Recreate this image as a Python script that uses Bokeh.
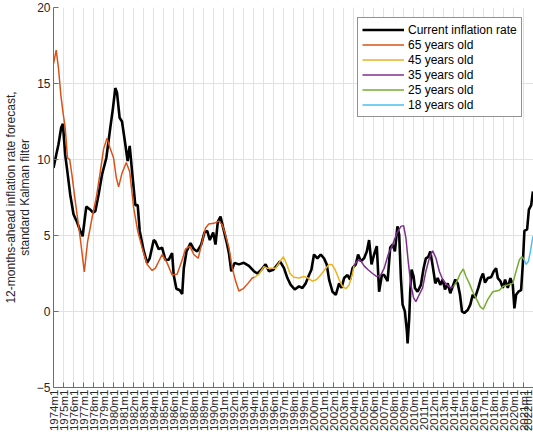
import math
from bokeh.plotting import figure
from bokeh.models import FixedTicker, Legend, LegendItem, AllLabels
from bokeh.embed import file_html
from bokeh.resources import INLINE

# values (decimal year, percent)
current_t = [1974.00, 1974.27, 1974.50, 1974.77, 1974.94, 1975.17, 1975.34, 1975.67, 1976.00, 1976.34,
             1976.68, 1976.91, 1977.28, 1977.68, 1977.95, 1978.18, 1978.51, 1978.85, 1979.28, 1979.68,
             1979.95, 1980.18, 1980.35, 1980.61, 1980.85, 1981.18, 1981.41, 1981.62, 1981.86, 1982.18,
             1982.42, 1982.62, 1983.02, 1983.36, 1983.62, 1984.02, 1984.19, 1984.52, 1984.86, 1985.19,
             1985.52, 1985.86, 1986.02, 1986.29, 1986.63, 1986.87, 1987.03, 1987.30, 1987.70, 1988.03,
             1988.37, 1988.77, 1989.10, 1989.37, 1989.63, 1989.97, 1990.20, 1990.43, 1990.70, 1990.97,
             1991.30, 1991.54, 1991.78, 1992.11, 1992.54, 1993.04, 1993.54, 1994.04, 1994.38, 1994.78,
             1995.21, 1995.54, 1995.98, 1996.65, 1997.05, 1997.39, 1997.72, 1998.12, 1998.55, 1998.89,
             1999.22, 1999.55, 1999.79, 2000.05, 2000.39, 2000.72, 2001.05, 2001.32, 2001.56, 2001.90,
             2002.23, 2002.56, 2002.80, 2003.06, 2003.40, 2003.66, 2003.90, 2004.23, 2004.46, 2004.73,
             2005.06, 2005.33, 2005.56, 2005.80, 2006.06, 2006.33, 2006.56, 2006.84, 2007.07, 2007.41,
             2007.67, 2007.91, 2008.14, 2008.39, 2008.57, 2008.74, 2008.91, 2009.14, 2009.34, 2009.41,
             2009.57, 2009.67, 2009.81, 2010.01, 2010.14, 2010.41, 2010.74, 2011.01, 2011.24, 2011.48,
             2011.68, 2011.92, 2012.18, 2012.42, 2012.68, 2012.92, 2013.15, 2013.42, 2013.68, 2013.92,
             2014.18, 2014.42, 2014.65, 2014.85, 2015.08, 2015.42, 2015.68, 2015.92, 2016.15, 2016.48,
             2016.75, 2016.95, 2017.15, 2017.43, 2017.76, 2018.03, 2018.26, 2018.43, 2018.69, 2018.93,
             2019.16, 2019.43, 2019.69, 2019.93, 2020.09, 2020.26, 2020.49, 2020.76, 2020.93, 2021.09,
             2021.36, 2021.54, 2021.77, 2021.94]
current_v = [9.45, 10.3, 11.0, 12.1, 12.35, 10.3, 9.45, 7.7, 6.4, 5.9,
             5.3, 4.95, 6.9, 6.7, 6.5, 6.6, 7.7, 9.0, 10.1, 12.1,
             13.4, 14.7, 14.4, 12.75, 12.5, 11.0, 9.9, 10.9, 9.2, 7.0,
             7.0, 5.3, 4.0, 3.2, 3.5, 4.7, 4.6, 4.1, 4.2, 3.4,
             3.4, 3.85, 2.4, 1.5, 1.4, 1.15, 2.85, 3.95, 4.5, 4.1,
             3.95, 4.4, 5.2, 5.3, 4.7, 5.2, 4.4, 5.9, 6.25, 5.5,
             4.6, 3.85, 2.65, 3.2, 3.1, 3.2, 3.0, 2.65, 2.5, 2.75,
             3.1, 2.65, 2.75, 3.3, 2.85, 2.2, 1.75, 1.45, 1.65, 1.55,
             1.85, 2.4, 2.75, 3.75, 3.5, 3.75, 3.5, 3.1, 2.1, 1.3,
             1.1, 1.85, 1.55, 2.2, 2.4, 2.1, 2.85, 3.1, 3.75, 3.3,
             3.5, 3.95, 4.7, 3.1, 3.75, 4.3, 1.3, 2.4, 2.4, 2.0,
             4.2, 4.4, 3.95, 5.6, 5.05, 2.2, 0.45, 0.0, -1.3, -2.1,
             -0.45, 1.3, 2.75, 2.3, 1.55, 1.3, 1.75, 2.85, 3.5, 3.6,
             3.95, 3.0, 1.85, 2.2, 1.75, 2.1, 1.45, 1.85, 1.2, 1.65,
             2.1, 1.85, 1.1, 0.0, -0.1, 0.1, 0.45, 1.1, 0.9, 1.55,
             2.2, 2.5, 1.9, 2.2, 2.25, 2.65, 2.85, 2.2, 2.0, 1.55,
             2.1, 1.55, 2.2, 1.75, 0.2, 1.1, 1.3, 1.4, 3.1, 5.3,
             5.4, 6.7, 7.0, 7.9]

age65_t = [1974.00, 1974.27, 1974.50, 1974.74, 1974.97, 1975.17, 1975.40, 1975.62, 1975.84, 1976.18,
           1976.68, 1977.08, 1977.41, 1977.85, 1978.28, 1978.68, 1979.01, 1979.35, 1979.68, 1980.01,
           1980.28, 1980.51, 1980.85, 1981.28, 1981.62, 1982.02, 1982.42, 1982.86, 1983.36, 1983.86,
           1984.19, 1984.86, 1985.36, 1985.86, 1986.36, 1986.77, 1987.20, 1987.63, 1988.03, 1988.47,
           1988.87, 1989.20, 1989.53, 1990.03, 1990.53, 1990.87, 1991.20, 1991.54, 1991.88, 1992.21,
           1992.54, 1992.98, 1993.44, 1993.88, 1994.11]
age65_v = [16.3, 17.2, 16.0, 14.2, 13.0, 12.1, 10.1, 10.0, 9.0, 7.25,
           4.8, 2.6, 4.6, 6.15, 7.5, 9.2, 10.7, 11.4, 10.7, 10.1,
           8.8, 8.2, 9.1, 9.8, 9.2, 6.8, 5.3, 4.2, 3.1, 2.7,
           2.85, 3.75, 3.2, 2.4, 2.45, 3.2, 4.1, 4.3, 3.75, 3.5,
           4.6, 5.5, 5.75, 5.8, 5.95, 5.7, 5.05, 4.2, 2.85, 2.0,
           1.35, 1.5, 1.85, 2.2, 2.25]

age45_t = [1994.11, 1994.54, 1995.04, 1995.38, 1995.71, 1996.21, 1996.65, 1996.99, 1997.32, 1997.65,
           1998.05, 1998.55, 1999.05, 1999.45, 1999.89, 2000.32, 2000.72, 2001.12, 2001.56, 2001.83,
           2002.16, 2002.56, 2002.90, 2003.23, 2003.56, 2003.90, 2004.06]
age45_v = [2.25, 2.45, 2.95, 2.85, 2.85, 2.85, 3.3, 3.6, 3.1, 2.5,
           2.25, 2.2, 2.3, 2.2, 2.0, 2.1, 2.4, 2.75, 3.1, 3.1,
           2.75, 2.1, 1.65, 1.5, 1.75, 2.5, 3.0]

age35_t = [2004.06, 2004.33, 2004.66, 2005.06, 2005.46, 2005.90, 2006.33, 2006.73, 2007.07, 2007.47,
           2007.91, 2008.34, 2008.74, 2009.01, 2009.24, 2009.47, 2009.74, 2010.01, 2010.24, 2010.57,
           2010.91, 2011.24, 2011.58, 2011.92, 2012.25, 2012.58, 2012.92, 2013.35, 2013.75, 2014.02]
age35_v = [3.0, 3.3, 3.4, 3.0, 2.75, 2.5, 2.3, 2.4, 2.85, 3.75,
           4.4, 5.15, 5.6, 5.65, 4.85, 3.3, 1.75, 0.9, 0.65, 1.1,
           1.55, 2.65, 3.5, 4.0, 3.5, 2.65, 2.1, 1.75, 1.55, 1.65]

age25_t = [2014.02, 2014.35, 2014.68, 2014.98, 2015.25, 2015.58, 2015.92, 2016.35, 2016.68, 2016.98,
           2017.43, 2017.93, 2018.59, 2018.93, 2019.43, 2019.93, 2020.26, 2020.59, 2020.83, 2021.03]
age25_v = [1.65, 2.0, 2.5, 2.8, 2.3, 1.85, 1.3, 0.75, 0.3, 0.15,
           0.8, 1.3, 1.4, 1.65, 1.75, 1.85, 2.65, 3.4, 3.6, 3.45]

age18_t = [2021.03, 2021.26, 2021.49, 2021.69, 2021.94]
age18_v = [3.45, 3.1, 3.3, 3.95, 4.95]

tick_years = list(range(1974, 2023))
tick_labels = [str(y) + "m1" for y in tick_years]
y_ticks = [-5, 0, 5, 10, 15, 20]

FONT = "Liberation Sans"
TXT = "#262626"
AXIS = "#6e6e6e"

p = figure(width=533, height=434, x_range=(1974, 2022), y_range=(-5, 20),
           output_backend="svg", toolbar_location=None, tools="",
           min_border_left=40, min_border_right=0, min_border_top=7,
           min_border_bottom=0)
p.outline_line_color = None

r0 = p.line(current_t, current_v, line_color="black", line_width=2.6)
r1 = p.line(age65_t, age65_v, line_color="#D95319", line_width=1.5)
r2 = p.line(age45_t, age45_v, line_color="#EDB120", line_width=1.5)
r3 = p.line(age35_t, age35_v, line_color="#7E2F8E", line_width=1.5)
r4 = p.line(age25_t, age25_v, line_color="#77AC30", line_width=1.5)
r5 = p.line(age18_t, age18_v, line_color="#4DBEEE", line_width=1.5)

# axes, MATLAB look: ticks pointing in, light grid
p.xaxis.ticker = FixedTicker(ticks=tick_years)
p.xaxis.major_label_overrides = dict(zip(tick_years, tick_labels))
p.xaxis.major_label_orientation = math.pi / 2
p.xaxis.major_label_policy = AllLabels()
p.yaxis.ticker = FixedTicker(ticks=y_ticks)
for ax in (p.xaxis, p.yaxis):
    ax.major_tick_in = 5
    ax.major_tick_out = 0
    ax.minor_tick_line_color = None
    ax.axis_line_color = AXIS
    ax.major_tick_line_color = AXIS
    ax.major_label_text_font = FONT
    ax.major_label_text_color = TXT
p.xaxis.major_label_text_font_size = "11.5px"
p.yaxis.major_label_text_font_size = "12px"
p.xaxis.major_label_standoff = 2
p.yaxis.major_label_standoff = 3
p.xaxis.axis_label = None
p.xaxis.axis_label_standoff = 0

p.yaxis.axis_label = "12-months-ahead inflation rate forecast,\nstandard Kalman filter"
p.yaxis.axis_label_text_font = FONT
p.yaxis.axis_label_text_font_size = "12px"
p.yaxis.axis_label_text_font_style = "normal"
p.yaxis.axis_label_text_color = TXT
p.yaxis.axis_label_text_line_height = 1.0
p.yaxis.axis_label_standoff = 2

p.xgrid.grid_line_color = "#e2e2e2"
p.ygrid.grid_line_color = "#e2e2e2"

legend = Legend(items=[
    LegendItem(label="Current inflation rate", renderers=[r0]),
    LegendItem(label="65 years old", renderers=[r1]),
    LegendItem(label="45 years old", renderers=[r2]),
    LegendItem(label="35 years old", renderers=[r3]),
    LegendItem(label="25 years old", renderers=[r4]),
    LegendItem(label="18 years old", renderers=[r5]),
], location=(304, 270))
legend.padding = 4
legend.spacing = 0
legend.glyph_width = 42
legend.glyph_height = 15
legend.label_height = 15
legend.label_standoff = 4
legend.label_text_font = FONT
legend.label_text_font_size = "12px"
legend.label_text_color = "black"
legend.border_line_color = TXT
legend.border_line_width = 1
legend.background_fill_color = "white"
legend.background_fill_alpha = 1.0
p.add_layout(legend)

open("out.html", "w").write(file_html(p, INLINE))
